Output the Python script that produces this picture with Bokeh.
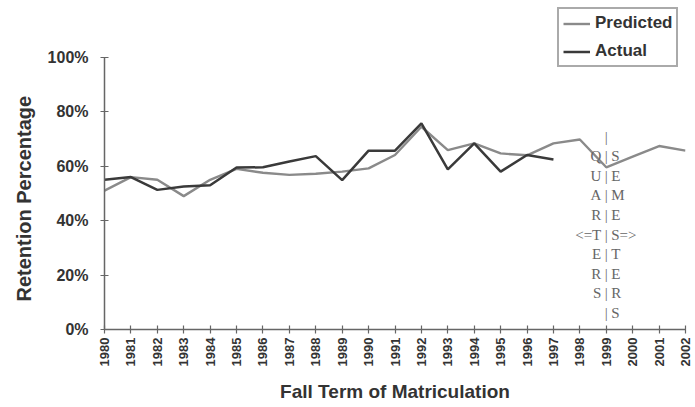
import math
from bokeh.plotting import figure
from bokeh.models import (ColumnDataSource, FixedTicker, PrintfTickFormatter,
                          Legend, LegendItem, Title)
from bokeh.core.properties import value
from bokeh.embed import file_html
from bokeh.resources import INLINE

years = list(range(1980, 2003))
predicted = [51, 56, 55, 49, 55, 59, 57.6, 56.8, 57.2, 58, 59.2, 64.1, 74.5,
             65.9, 68.4, 64.7, 64, 68.4, 69.8, 59.6, 63.5, 67.4, 65.7]
actual_years = list(range(1980, 1998))
actual = [55, 56, 51.3, 52.5, 53, 59.5, 59.6, 61.7, 63.7, 54.9, 65.7, 65.7, 75.7,
          58.8, 68.4, 58, 64.1, 62.5]

note_left = ["", "Q", "U", "A", "R", "<=T", "E", "R", "S", ""]
note_mid = ["|"] * 10
note_right = ["", "S", "E", "M", "E", "S=>", "T", "E", "R", "S"]
note_year = 1999
note_top = 70.9
note_step = 7.2

W, H = 693, 405
FRAME_TOP, FRAME_BOTTOM, FRAME_LEFT, FRAME_RIGHT = 0, 330, 103, 685
y_top = 100 * (FRAME_BOTTOM - FRAME_TOP) / (FRAME_BOTTOM - 57)

p = figure(width=W, height=H, output_backend="svg", toolbar_location=None,
           x_range=(1980, 2002), y_range=(0, y_top),
           min_border_left=FRAME_LEFT, min_border_right=W - FRAME_RIGHT,
           min_border_top=FRAME_TOP, min_border_bottom=H - FRAME_BOTTOM)
p.outline_line_color = None
p.xgrid.visible = False
p.ygrid.visible = False
p.background_fill_color = "white"

r_pred = p.line(years, predicted, line_color="#8a8a8a", line_width=2.4)
r_act = p.line(actual_years, actual, line_color="#3a3a3a", line_width=2.5)

ny = [note_top - i * note_step for i in range(len(note_mid))]
src = ColumnDataSource(dict(x=[note_year] * len(ny), y=ny, l=note_left,
                            m=note_mid, r=note_right))
common = dict(text_font=value("Liberation Serif"), text_font_size="15px",
              text_color="#666666", text_baseline="middle")
p.text(x="x", y="y", text="m", source=src, text_align="center", **common)
p.text(x="x", y="y", text="l", source=src, text_align="right", x_offset=-5, **common)
p.text(x="x", y="y", text="r", source=src, text_align="left", x_offset=5, **common)

for ax in (p.xaxis[0], p.yaxis[0]):
    ax.axis_line_color = "#666666"
    ax.axis_line_width = 1.5
    ax.major_tick_line_color = "#666666"
    ax.major_tick_line_width = 1.2
    ax.major_tick_in = 4
    ax.major_tick_out = 4
    ax.minor_tick_line_color = None
    ax.major_label_text_font = "Liberation Sans"
    ax.major_label_text_font_style = "bold"
    ax.major_label_text_color = "#333333"
    ax.axis_label_text_font = "Liberation Sans"
    ax.axis_label_text_font_style = "bold"
    ax.axis_label_text_color = "#333333"
    ax.axis_label_text_font_size = "19px"

p.yaxis.bounds = (0, 100)

p.xaxis.ticker = FixedTicker(ticks=years)
p.xaxis.major_label_orientation = math.pi / 2
p.xaxis.major_label_text_font_size = "13px"
p.xaxis.major_label_standoff = 4
p.xaxis.axis_label = "Fall Term of Matriculation"
p.xaxis.axis_label_standoff = 12

p.yaxis.ticker = FixedTicker(ticks=[0, 20, 40, 60, 80, 100])
p.yaxis.formatter = PrintfTickFormatter(format="%d%%")
p.yaxis.major_label_text_font_size = "16px"
p.yaxis.major_label_standoff = 12

ytitle = Title(text="Retention Percentage", align="left", offset=28,
               text_font="Liberation Sans", text_font_style="bold",
               text_font_size="20px", text_color="#333333", standoff=20)
p.add_layout(ytitle, "left")

legend = Legend(items=[LegendItem(label="Predicted", renderers=[r_pred]),
                       LegendItem(label="Actual", renderers=[r_act])],
                location=(453, 262), orientation="vertical")
legend.label_text_font = "Liberation Sans"
legend.label_text_font_style = "bold"
legend.label_text_font_size = "17px"
legend.label_text_color = "#333333"
legend.label_height = 19
legend.glyph_height = 19
legend.glyph_width = 27
legend.label_standoff = 5
legend.padding = 4
legend.spacing = 8
legend.margin = 0
legend.border_line_color = "#555555"
legend.border_line_width = 2
legend.background_fill_alpha = 1
p.add_layout(legend)

open("out.html", "w").write(file_html(p, INLINE))
